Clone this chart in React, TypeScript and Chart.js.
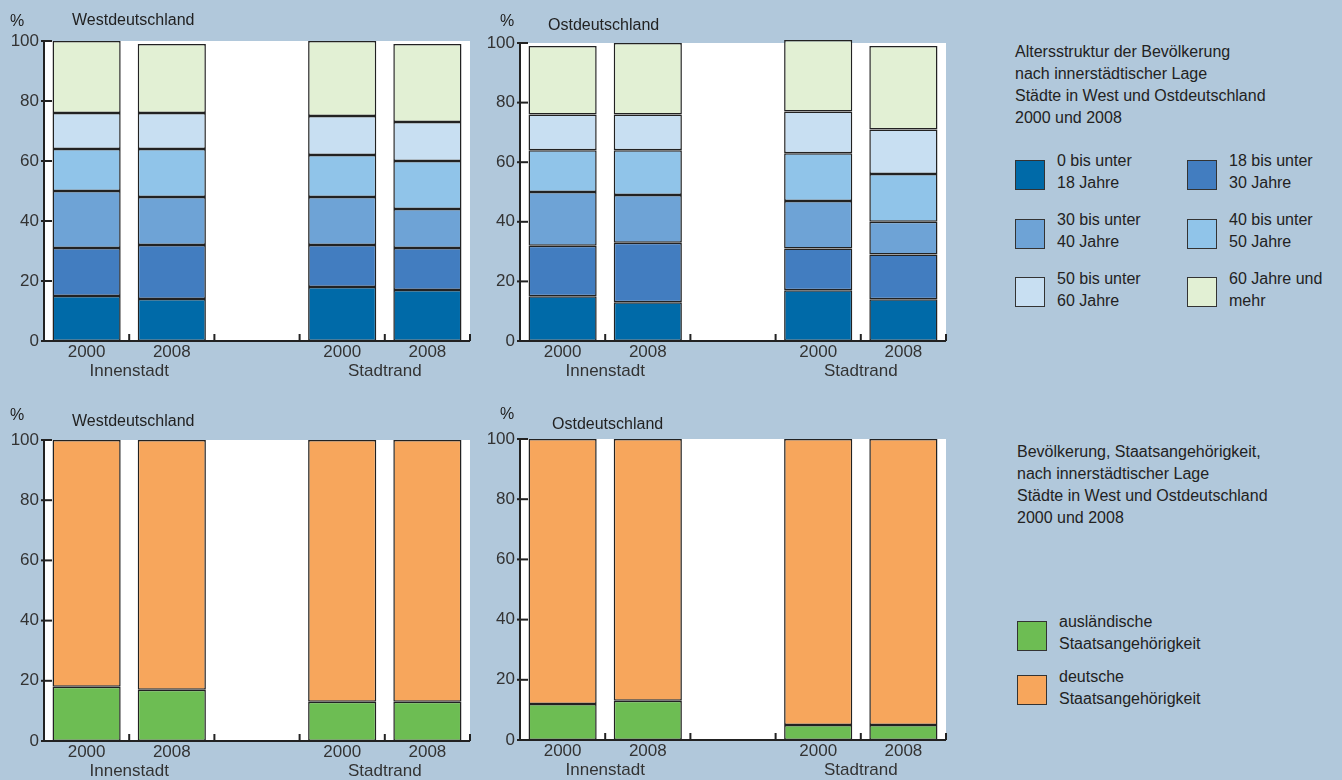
import React, { useEffect, useRef } from "react";
import { Chart, registerables } from "chart.js";
Chart.register(...registerables);

const categories = ["2000", "2008", "", "2000", "2008"];
const groups = ["Innenstadt", "Stadtrand"];
const yTicks = [0, 20, 40, 60, 80, 100];

const ageLabels = ["0 bis unter 18 Jahre", "18 bis unter 30 Jahre", "30 bis unter 40 Jahre", "40 bis unter 50 Jahre", "50 bis unter 60 Jahre", "60 Jahre und mehr"];
const ageColors = ["#006aa8", "#427dc0", "#6ea3d6", "#90c4e9", "#c8dff2", "#e2f0d4"];
// West segments per category (null = empty slot)
const westAge0 = [15, 14, null, 18, 17];
const westAge18 = [16, 18, null, 14, 14];
const westAge30 = [19, 16, null, 16, 13];
const westAge40 = [14, 16, null, 14, 16];
const westAge50 = [12, 12, null, 13, 13];
const westAge60 = [24, 23, null, 25, 26];
const ostAge0 = [15, 13, null, 17, 14];
const ostAge18 = [17, 20, null, 14, 15];
const ostAge30 = [18, 16, null, 16, 11];
const ostAge40 = [14, 15, null, 16, 16];
const ostAge50 = [12, 12, null, 14, 15];
const ostAge60 = [23, 24, null, 24, 28];

const natLabels = ["ausländische Staatsangehörigkeit", "deutsche Staatsangehörigkeit"];
const natColors = ["#6dbd53", "#f7a65c"];
const westForeign = [18, 17, null, 13, 13];
const westGerman = [82, 83, null, 87, 87];
const ostForeign = [12, 13, null, 5, 5];
const ostGerman = [88, 87, null, 95, 95];

const FONT = '"Liberation Sans", Arial, sans-serif';

const axesPlugin = {
  id: "customAxes",
  beforeDatasetsDraw(chart: any) {
    const { ctx, chartArea: a } = chart;
    ctx.save();
    ctx.fillStyle = "#ffffff";
    ctx.fillRect(a.left, a.top, a.right - a.left, a.bottom - a.top);
    ctx.restore();
  },
  afterDatasetsDraw(chart: any) {
    const { ctx, chartArea: a, scales } = chart;
    const x = scales.x, y = scales.y;
    ctx.save();
    ctx.strokeStyle = "#222";
    ctx.lineWidth = 2;
    ctx.beginPath();
    ctx.moveTo(a.left, a.top);
    ctx.lineTo(a.left, a.bottom);
    ctx.lineTo(a.right, a.bottom);
    ctx.stroke();
    ctx.fillStyle = "#333";
    ctx.font = `17px ${FONT}`;
    ctx.textAlign = "right";
    ctx.textBaseline = "middle";
    yTicks.forEach((t) => {
      const py = y.getPixelForValue(t);
      ctx.beginPath();
      ctx.moveTo(a.left - 3, py);
      ctx.lineTo(a.left + 8, py);
      ctx.stroke();
      ctx.fillText(String(t), a.left - 5, py);
    });
    const step = (a.right - a.left) / categories.length;
    for (let i = 1; i <= categories.length; i++) {
      const px = a.left + step * i;
      ctx.beginPath();
      ctx.moveTo(px, a.bottom);
      ctx.lineTo(px, a.bottom - 7);
      ctx.stroke();
    }
    ctx.textAlign = "center";
    ctx.textBaseline = "top";
    categories.forEach((c, i) => {
      if (c) ctx.fillText(c, x.getPixelForValue(i), a.bottom + 3);
    });
    ctx.fillText(groups[0], (x.getPixelForValue(0) + x.getPixelForValue(1)) / 2, a.bottom + 22);
    ctx.fillText(groups[1], (x.getPixelForValue(3) + x.getPixelForValue(4)) / 2, a.bottom + 22);
    ctx.restore();
  },
};

function StackChart({ series, colors, labels, style, padTop }: any) {
  const ref = useRef<HTMLCanvasElement>(null);
  useEffect(() => {
    const chart = new Chart(ref.current!, {
      type: "bar",
      data: {
        labels: categories,
        datasets: series.map((s: any, i: number) => ({
          label: labels[i],
          data: s,
          backgroundColor: colors[i],
          borderColor: "#222",
          borderWidth: 1.5,
          borderSkipped: false,
          barPercentage: 0.8,
          categoryPercentage: 1,
          clip: false,
        })),
      },
      options: {
        animation: false,
        responsive: false,
        layout: { padding: { left: 44, top: padTop, right: 10, bottom: 49 } },
        plugins: { legend: { display: false }, tooltip: { enabled: false } },
        scales: {
          x: { stacked: true, display: false },
          y: { stacked: true, display: false, min: 0, max: 100 },
        },
      },
      plugins: [axesPlugin],
    });
    return () => chart.destroy();
  }, []);
  return <canvas ref={ref} width={480} height={390} style={{ position: "absolute", ...style }} />;
}

const txt: React.CSSProperties = { position: "absolute", fontFamily: FONT, fontSize: 16, color: "#222", lineHeight: "22px", whiteSpace: "nowrap" };

function Box({ x, y, color }: any) {
  return <div style={{ position: "absolute", left: x, top: y, width: 28, height: 28, background: color, border: "1.5px solid #333" }} />;
}

export default function App() {
  const westAge = [westAge0, westAge18, westAge30, westAge40, westAge50, westAge60];
  const ostAge = [ostAge0, ostAge18, ostAge30, ostAge40, ostAge50, ostAge60];
  const legendPos = [
    [1015, 160, 1057, 150], [1187, 160, 1229, 150],
    [1015, 219, 1057, 209], [1187, 219, 1229, 209],
    [1015, 277, 1057, 268], [1187, 277, 1229, 268],
  ];
  const ageText = [["0 bis unter", "18 Jahre"], ["18 bis unter", "30 Jahre"], ["30 bis unter", "40 Jahre"], ["40 bis unter", "50 Jahre"], ["50 bis unter", "60 Jahre"], ["60 Jahre und", "mehr"]];
  return (
    <div style={{ position: "fixed", left: 0, top: 0, width: 1342, height: 780, background: "#b1c8db", overflow: "hidden" }}>
      <StackChart series={westAge} colors={ageColors} labels={ageLabels} style={{ left: 0, top: 0 }} padTop={41} />
      <StackChart series={ostAge} colors={ageColors} labels={ageLabels} style={{ left: 476, top: 0 }} padTop={43} />
      <StackChart series={[westForeign, westGerman]} colors={natColors} labels={natLabels} style={{ left: 0, top: 400 }} padTop={40} />
      <StackChart series={[ostForeign, ostGerman]} colors={natColors} labels={natLabels} style={{ left: 476, top: 399 }} padTop={40} />

      <div style={{ ...txt, left: 10, top: 10 }}>%</div>
      <div style={{ ...txt, left: 72, top: 9 }}>Westdeutschland</div>
      <div style={{ ...txt, left: 500, top: 10 }}>%</div>
      <div style={{ ...txt, left: 548, top: 14 }}>Ostdeutschland</div>
      <div style={{ ...txt, left: 10, top: 404 }}>%</div>
      <div style={{ ...txt, left: 72, top: 410 }}>Westdeutschland</div>
      <div style={{ ...txt, left: 500, top: 403 }}>%</div>
      <div style={{ ...txt, left: 552, top: 413 }}>Ostdeutschland</div>

      <div style={{ ...txt, left: 1015, top: 41 }}>
        Altersstruktur der Bevölkerung<br />nach innerstädtischer Lage<br />Städte in West und Ostdeutschland<br />2000 und 2008
      </div>
      {legendPos.map((p, i) => (
        <React.Fragment key={i}>
          <Box x={p[0]} y={p[1]} color={ageColors[i]} />
          <div style={{ ...txt, left: p[2], top: p[3] }}>{ageText[i][0]}<br />{ageText[i][1]}</div>
        </React.Fragment>
      ))}
      <div style={{ ...txt, left: 1017, top: 441 }}>
        Bevölkerung, Staatsangehörigkeit,<br />nach innerstädtischer Lage<br />Städte in West und Ostdeutschland<br />2000 und 2008
      </div>
      <Box x={1017} y={621} color={natColors[0]} />
      <div style={{ ...txt, left: 1059, top: 611 }}>ausländische<br />Staatsangehörigkeit</div>
      <Box x={1017} y={675} color={natColors[1]} />
      <div style={{ ...txt, left: 1059, top: 666 }}>deutsche<br />Staatsangehörigkeit</div>
    </div>
  );
}
